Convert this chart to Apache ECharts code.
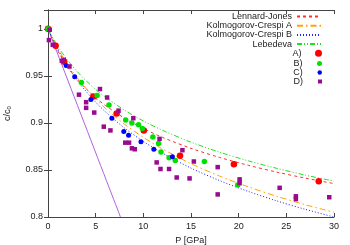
<!DOCTYPE html>
<html>
<head>
<meta charset="utf-8">
<script src="https://cdn.jsdelivr.net/npm/echarts@6/dist/echarts.min.js"></script>
<style>html,body{margin:0;padding:0;background:#fff}#c{width:350px;height:245px}</style>
</head>
<body>
<div id="c"></div>
<script>
// ---- data ----
var curveP = [0, 1, 2, 3, 4, 5, 6, 8, 10, 12, 15, 18, 21, 24, 27, 30];
var ljC    = [1, 0.9773, 0.9605, 0.9472, 0.9362, 0.9268, 0.9187, 0.9052, 0.8941, 0.8847, 0.8730, 0.8633, 0.8550, 0.8477, 0.8413, 0.8355];
var kcaC   = [1, 0.9798, 0.9631, 0.9488, 0.9364, 0.9255, 0.9157, 0.8988, 0.8846, 0.8724, 0.8567, 0.8435, 0.8321, 0.8220, 0.8130, 0.8050];
var kcbC   = [1, 0.9786, 0.9610, 0.9462, 0.9334, 0.9221, 0.9120, 0.8948, 0.8803, 0.8679, 0.8520, 0.8387, 0.8272, 0.8171, 0.8081, 0.8000];
var lebC   = [1, 0.9819, 0.9674, 0.9552, 0.9448, 0.9356, 0.9275, 0.9137, 0.9021, 0.8922, 0.8795, 0.8689, 0.8597, 0.8517, 0.8445, 0.8381];
var linP   = [0, 7.6];
var linC   = [1, 0.8];

var dataA = [[0,1.0],[0.8,0.982],[1.7,0.965],[4.75,0.928],[7.2,0.910],[10.05,0.892],[13.85,0.865],[19.5,0.856],[28.4,0.838]];
var dataB = [[0,1.0],[3.5,0.943],[5.15,0.929],[6.4,0.919],[8.15,0.903],[8.8,0.900],[9.5,0.898],[9.9,0.894],[11.0,0.885],[11.6,0.878],[11.85,0.869],[12.7,0.863],[13.35,0.860],[16.4,0.859],[19.9,0.834]];
var dataC = [[1.9,0.961],[2.8,0.949],[4.5,0.925],[6.7,0.905],[7.95,0.891],[8.45,0.887],[9.75,0.880],[11.1,0.872],[13.05,0.864]];
var dataD = [[0.18,0.999],[0.1,0.988],[0.5,0.983],[1.45,0.966],[1.65,0.967],[2.25,0.960],[3.25,0.930],[4.0,0.922],[4.0,0.916],[4.85,0.911],[5.45,0.936],[6.2,0.927],[7.4,0.913],[8.95,0.905],[5.85,0.896],[6.55,0.892],[8.1,0.879],[8.5,0.879],[8.8,0.873],[9.1,0.872],[11.7,0.883],[11.4,0.858],[11.8,0.851],[12.7,0.851],[14.1,0.871],[13.5,0.842],[14.85,0.841],[15.3,0.859],[17.8,0.853],[17.8,0.824],[20.1,0.840],[20.1,0.836],[24.3,0.831],[26.0,0.822],[26.0,0.819],[29.5,0.821]];

var xTicks = [0, 5, 10, 15, 20, 25, 30];
var yTicks = [0.8, 0.85, 0.9, 0.95, 1];
// ---------------------------------------

function zip(xs, ys) { return xs.map(function (x, i) { return [x, ys[i]]; }); }

var FONT = 'Liberation Sans, Arial, sans-serif';
var TXT = '#222';
var AX = '#444';

function yFmt(v) {
  for (var i = 0; i < yTicks.length; i++) if (Math.abs(v - yTicks[i]) < 1e-6) return String(yTicks[i]);
  return '';
}

function lineSeries(name, data, color, dash, width) {
  return {
    name: name, type: 'line', data: data, symbol: 'circle', showSymbol: false, smooth: 0.3,
    lineStyle: { color: color, width: width || 1, type: dash },
    itemStyle: { color: color }, z: 2, silent: true
  };
}
function scatterSeries(name, data, color, symbol, size) {
  return {
    name: name, type: 'scatter', data: data, symbol: symbol, symbolSize: size,
    itemStyle: { color: color, opacity: 1 }, z: 3, silent: true
  };
}

function pointLegend(item, top, h) {
  return {
    data: [item], orient: 'vertical', right: 28, top: top, align: 'right', padding: 0,
    itemWidth: 24, itemHeight: h, selectedMode: false, symbolKeepAspect: true,
    textStyle: { fontSize: 9, fontFamily: FONT, color: TXT, lineHeight: 9 }
  };
}

var chart = echarts.init(document.getElementById('c'), null, { renderer: 'canvas' });
chart.setOption({
  animation: false,
  backgroundColor: '#fff',
  grid: { left: 48, right: 16, top: 10, bottom: 28, containLabel: false, outerBoundsMode: 'none' },
  legend: [
    {
      data: ['Lennard-Jones', 'Kolmogorov-Crespi A', 'Kolmogorov-Crespi B', 'Lebedeva'],
      orient: 'vertical', right: 28, top: 12, align: 'right', padding: 0,
      itemWidth: 24, itemHeight: 9, itemGap: 0.2, selectedMode: false,
      itemStyle: { opacity: 0 },
      textStyle: { fontSize: 9, fontFamily: FONT, color: TXT, lineHeight: 9 }
    },
    pointLegend('A)', 48.8, 7),
    pointLegend('B)', 58.9, 5),
    pointLegend('C)', 67.9, 4.5),
    pointLegend({ name: 'D)', icon: 'path://M0 0H10V10H0Z' }, 77, 4)
  ],
  xAxis: [
    {
      type: 'value', min: 0, max: 30, interval: 5, position: 'bottom',
      name: 'P [GPa]', nameLocation: 'middle', nameGap: 17,
      nameTextStyle: { fontSize: 9, fontFamily: FONT, color: TXT },
      axisLine: { show: true, lineStyle: { color: AX, width: 1 } },
      axisTick: { show: true, inside: true, length: 4, lineStyle: { color: AX } },
      axisLabel: { fontSize: 9, fontFamily: FONT, color: TXT, margin: 5 },
      splitLine: { show: false }
    },
    {
      type: 'value', min: 0, max: 30, interval: 5, position: 'top',
      axisLine: { show: true, lineStyle: { color: AX, width: 1 } },
      axisTick: { show: true, inside: true, length: 4, lineStyle: { color: AX } },
      axisLabel: { show: false }, splitLine: { show: false }
    }
  ],
  yAxis: [
    {
      type: 'value', min: 0.8, max: 1.02, interval: 0.05, position: 'left',
      name: '{a|c/c}{b|0}', nameLocation: 'middle', nameGap: 36,
      nameTextStyle: {
        fontSize: 9, fontFamily: FONT, color: TXT,
        rich: {
          a: { fontSize: 9, fontFamily: FONT, color: TXT, lineHeight: 12, verticalAlign: 'bottom' },
          b: { fontSize: 6, fontFamily: FONT, color: TXT, lineHeight: 10, verticalAlign: 'bottom' }
        }
      },
      axisLine: { show: true, lineStyle: { color: AX, width: 1 } },
      axisTick: { show: true, inside: true, length: 4, lineStyle: { color: AX } },
      axisLabel: { fontSize: 9, fontFamily: FONT, color: TXT, margin: 5, formatter: yFmt, showMaxLabel: false },
      splitLine: { show: false }
    },
    {
      type: 'value', min: 0.8, max: 1.02, interval: 0.05, position: 'right',
      axisLine: { show: true, lineStyle: { color: AX, width: 1 } },
      axisTick: { show: true, inside: true, length: 4, lineStyle: { color: AX } },
      axisLabel: { show: false }, splitLine: { show: false }
    }
  ],
  series: [
    lineSeries('linear', zip(linP, linC), '#b060e0', 'solid', 1),
    lineSeries('Lennard-Jones', zip(curveP, ljC), '#ff3030', [3, 3], 1),
    lineSeries('Kolmogorov-Crespi A', zip(curveP, kcaC), '#ffa500', [6, 3, 1.5, 3], 1),
    lineSeries('Kolmogorov-Crespi B', zip(curveP, kcbC), '#2020ff', [1, 2], 1),
    lineSeries('Lebedeva', zip(curveP, lebC), '#20e020', [5, 2, 1, 2, 1, 2], 1),
    scatterSeries('A)', dataA, '#ff0000', 'circle', 6.5),
    scatterSeries('B)', dataB, '#00e000', 'circle', 5.5),
    scatterSeries('C)', dataC, '#0000ff', 'circle', 5),
    scatterSeries('D)', dataD, '#9a0a90', 'rect', 4.5)
  ]
});
</script>
</body>
</html>
